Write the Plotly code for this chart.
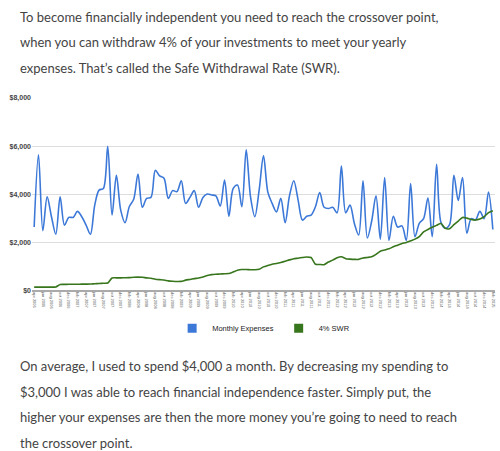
import pandas as pd
import plotly.graph_objects as go

# monthly expenses, apr 2006 .. feb 2015
expenses = [
    2650, 5650, 2500, 3900, 3080, 2350, 3900, 2730, 3050, 3050,
    3300, 3080, 2730, 2350, 3560, 4180, 4250, 6000, 3150, 4800,
    3350, 2830, 3500, 3800, 4850, 3470, 3840, 3880, 5000, 4770,
    4670, 3840, 4160, 4120, 4570, 3630, 3880, 4160, 3470, 3880,
    4020, 3980, 3940, 3520, 4600, 3100, 4250, 4390, 3490, 5850,
    3900, 3080, 4190, 5600, 4100, 3630, 3280, 3840, 2830, 3940,
    4570, 3770, 2940, 3100, 3150, 3490, 4080, 3470, 3420, 3470,
    3240, 5180, 3240, 3560, 2800, 2320, 4570, 2200, 2900, 3950,
    2150, 4700, 2100, 3100, 2650, 2700, 2100, 4450, 2250, 2800,
    3000, 3850, 2250, 5250, 2850, 2600, 2750, 4800, 3750, 4700,
    2400, 3000, 2950, 3300, 3000, 4100, 2550,
]

# 4% of investments, monthly
swr = [
    160, 160, 160, 160, 160, 170, 270, 275, 278, 280,
    282, 284, 286, 288, 300, 310, 320, 330, 540, 545,
    545, 550, 555, 570, 575, 570, 545, 530, 490, 470,
    455, 420, 405, 395, 400, 450, 480, 513, 540, 580,
    640, 680, 695, 705, 715, 725, 790, 860, 890, 890,
    880, 880, 900, 1000, 1060, 1110, 1140, 1180, 1230, 1290,
    1340, 1360, 1390, 1410, 1390, 1110, 1100, 1090, 1200, 1280,
    1380, 1420, 1340, 1320, 1310, 1310, 1370, 1390, 1420, 1520,
    1650, 1700, 1750, 1830, 1900, 1970, 2010, 2080, 2150, 2250,
    2450, 2550, 2640, 2720, 2800, 2600, 2580, 2750, 2900, 3050,
    3020, 2960, 2940, 2980, 3080, 3250, 3330,
]

months = list(pd.date_range("2006-04-01", periods=len(expenses), freq="MS").strftime("%b %Y").str.lower())
tick_months = months[::2]

top_text = [
    "To become financially independent you need to reach the crossover point,",
    "when you can withdraw 4% of your investments to meet your yearly",
    "expenses. That\u2019s called the Safe Withdrawal Rate (SWR).",
]
bottom_text = [
    "On average, I used to spend $4,000 a month. By decreasing my spending to",
    "$3,000 I was able to reach financial independence faster. Simply put, the",
    "higher your expenses are then the more money you\u2019re going to need to reach",
    "the crossover point.",
]

blue = "#3c78d8"
green = "#38761d"

fig = go.Figure()
fig.add_trace(go.Scatter(x=months, y=expenses, mode="lines", name="Monthly Expenses",
                         line=dict(color=blue, width=1.6, shape="spline", smoothing=0.9),
                         showlegend=False))
fig.add_trace(go.Scatter(x=months, y=swr, mode="lines", name="4% SWR",
                         line=dict(color=green, width=1.6, shape="spline", smoothing=0.6),
                         showlegend=False))
# legend entries drawn as squares
fig.add_trace(go.Scatter(x=[None], y=[None], mode="markers", name="Monthly Expenses",
                         marker=dict(symbol="square", size=9, color=blue)))
fig.add_trace(go.Scatter(x=[None], y=[None], mode="markers", name="4% SWR",
                         marker=dict(symbol="square", size=9, color=green)))

# plot area in pixels: left 31.8, right 495, top 98, bottom 290.7
L, R, T, B = 31.8, 495.0, 98.0, 290.7
W, H = 500, 451


def px(x):
    return (x - L) / (R - L)


def py(y):
    return (B - y) / (B - T)


anns = []
for i, line in enumerate(top_text):
    anns.append(dict(text=line, x=px(18), y=py(17 + 25.5 * i), xref="paper", yref="paper",
                     xanchor="left", yanchor="middle", showarrow=False,
                     font=dict(family="Lato", size=13, color="#444444")))
for i, line in enumerate(bottom_text):
    anns.append(dict(text=line, x=px(18), y=py(366 + 25.5 * i), xref="paper", yref="paper",
                     xanchor="left", yanchor="middle", showarrow=False,
                     font=dict(family="Lato", size=13, color="#444444")))

fig.update_layout(
    width=W, height=H,
    margin=dict(l=L, r=W - R, t=T, b=H - B, autoexpand=False),
    plot_bgcolor="white", paper_bgcolor="white",
    font=dict(family="Liberation Sans, Arial", color="#444444"),
    annotations=anns,
    legend=dict(orientation="h", x=px(172), xanchor="left", y=py(328), yanchor="middle",
                font=dict(size=7.5, color="#222222"), itemwidth=30),
)
fig.update_xaxes(type="category", range=[-0.5, len(months) - 0.5], showgrid=False,
                 tickmode="array", tickvals=tick_months, ticktext=tick_months,
                 tickangle=90, tickfont=dict(size=4, color="#555555"), ticks="",
                 showline=False, automargin=False)
fig.update_yaxes(range=[0, 8000], dtick=2000, tickformat="$,.0f",
                 gridcolor="#dddddd", gridwidth=1,
                 zeroline=True, zerolinecolor="#aaaaaa", zerolinewidth=2,
                 tickfont=dict(size=7, color="#444444", weight="bold"), ticks="",
                 automargin=False)

# page body has a default 8px margin; drop it so the figure fills the window
fig.write_html("out.html", config={"displayModeBar": False},
               post_script="document.body.style.margin='0';")
